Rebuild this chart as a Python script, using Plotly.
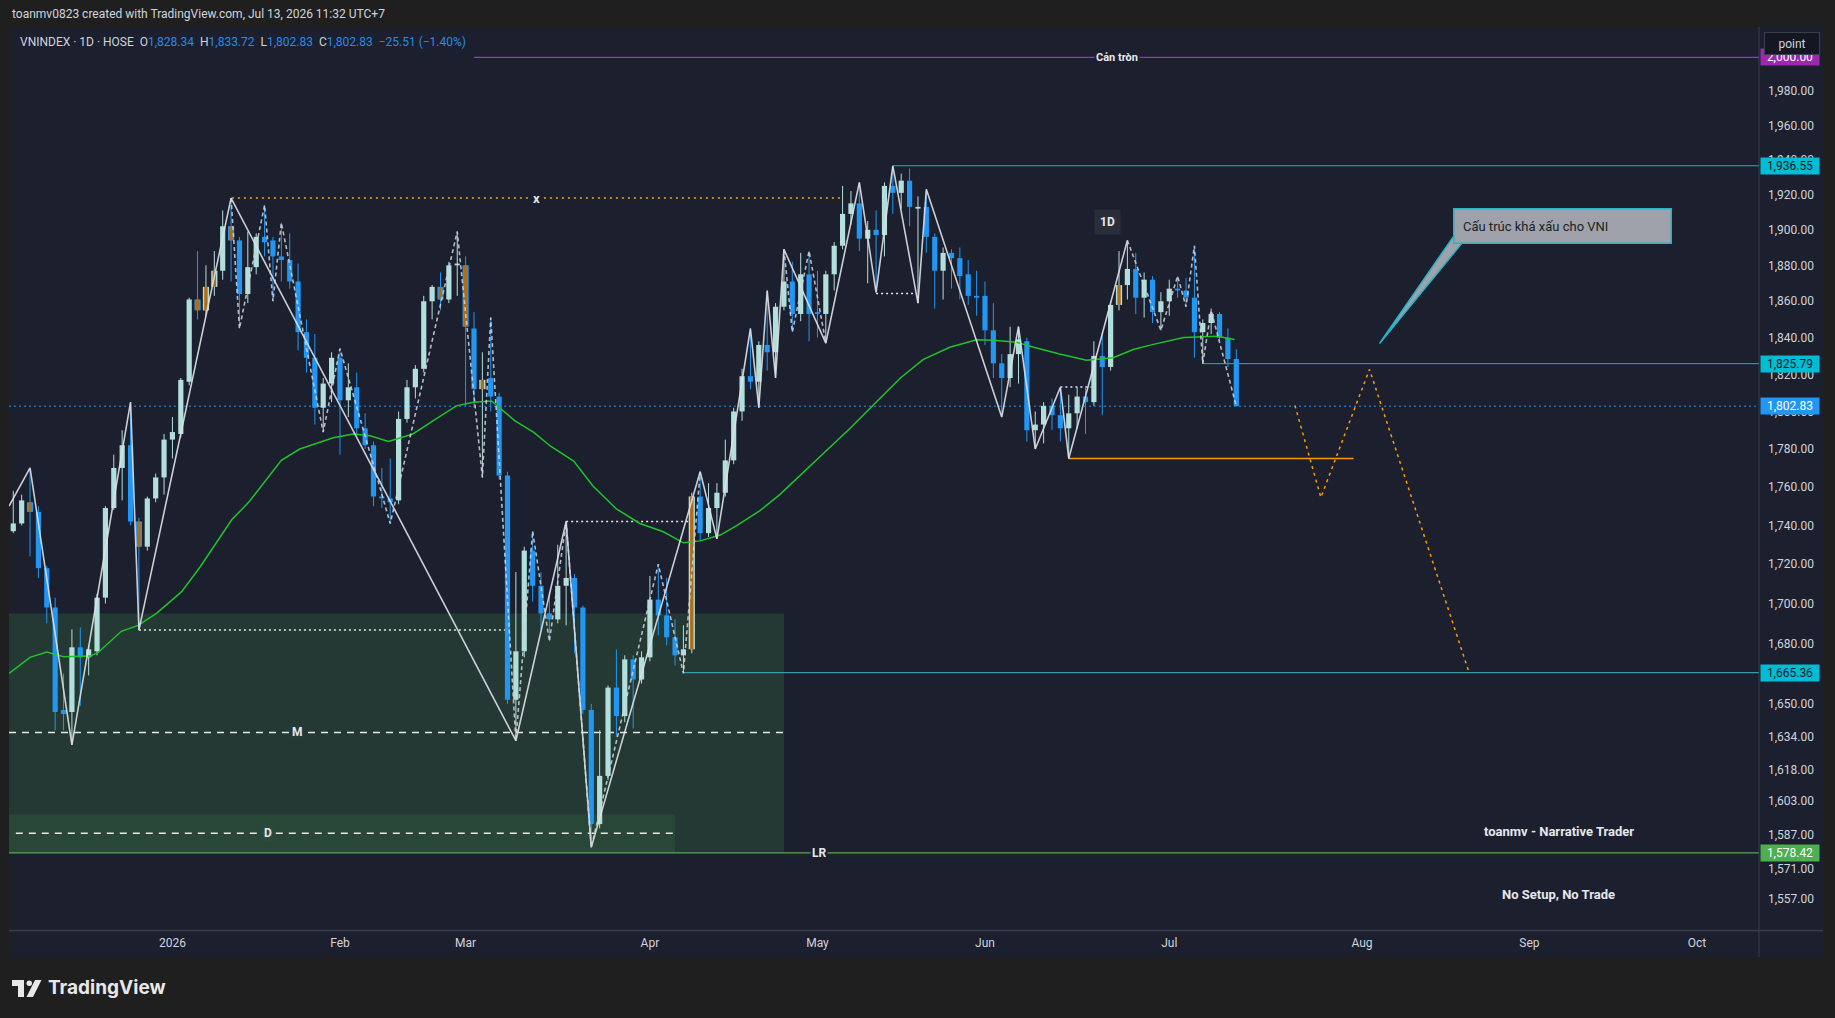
import numpy as np
import plotly.graph_objects as go

# ---------------- data ----------------
opens = [1737,1741,1752,1747,1718,1698,1647,1646,1678,1673,
         1676,1703,1749,1770,1782,1742,1729,1754,1765,1785,
         1788,1816,1861,1855,1868,1877,1902,1894,1864,1879,
         1896,1894,1885,1883,1871,1843,1829,1802,1815,1829,
         1806,1813,1791,1782,1755,1754,1753,1796,1813,1823,
         1860,1868,1861,1880,1880,1845,1812,1818,1808,1766,
         1652,1676,1727,1709,1695,1692,1709,1713,1698,1647,
         1592,1615,1658,1644,1672,1662,1673,1702,1694,1683,
         1674,1677,1755,1736,1749,1757,1774,1800,1819,1816,
         1836,1832,1857,1871,1853,1875,1854,1853,1875,1891,
         1909,1915,1895,1900,1897,1925,1921,1928,1912,1913,
         1896,1877,1887,1884,1875,1863,1863,1844,1826,1818,
         1831,1838,1790,1793,1803,1798,1791,1799,1808,1805,
         1830,1824,1858,1869,1878,1862,1872,1854,1860,1867,
         1866,1862,1843,1848,1853,1840,1828.34]
highs = [1758,1756,1770,1750,1719,1703,1665,1687,1688,1679,
         1705,1750,1777,1790,1805,1744,1755,1767,1788,1797,
         1818,1862,1888,1880,1888,1911,1918,1896,1899,1898,
         1914,1896,1904,1898,1881,1850,1842,1818,1832,1834,
         1826,1821,1799,1784,1770,1775,1800,1817,1825,1863,
         1869,1876,1882,1899,1885,1854,1832,1851,1810,1768,
         1716,1729,1737,1716,1706,1730,1742,1715,1699,1650,
         1637,1659,1677,1674,1674,1676,1714,1720,1713,1692,
         1689,1757,1768,1762,1762,1785,1802,1823,1845,1838,
         1866,1859,1889,1882,1887,1888,1877,1877,1893,1925,
         1922,1927,1905,1911,1927,1936.55,1932,1935,1919,1923,
         1898,1890,1889,1890,1883,1877,1871,1859,1831,1846,
         1846,1840,1800,1805,1807,1813,1809,1813,1813,1838,
         1843,1860,1888,1894,1887,1876,1874,1865,1872,1874,
         1873,1891,1850,1856,1854,1845,1833.72]
lows = [1736,1740,1724,1713,1690,1637,1637,1630,1649,1664,
        1674,1700,1748,1753,1740,1686.6,1727,1752,1756,1775,
        1786,1814,1850,1852,1863,1872,1871,1845,1859,1875,
        1885,1860,1871,1867,1833,1821,1793,1789,1805,1777,
        1797,1788,1780,1750,1749,1741,1751,1794,1807,1821,
        1850,1855,1859,1863,1803,1802,1765,1800,1764,1650,
        1632,1673,1701,1687,1681,1690,1689,1675,1645,1581,
        1590,1613,1634,1641,1638,1660,1671,1684,1679,1669,
        1665.36,1675,1732,1734,1733,1755,1772,1795,1812,1802,
        1822,1818,1855,1843,1849,1838,1840,1837,1866,1889,
        1903,1888,1870,1865,1885,1909,1912,1902,1859,1887,
        1856,1861,1867,1861,1858,1852,1836,1818,1797,1813,
        1815,1784,1780,1783,1790,1784,1775,1791,1788,1803,
        1798,1822,1855,1861,1853,1851,1848,1844,1852,1862,
        1857,1829,1825.79,1842,1838,1824,1802.83]
closes = [1741,1753,1747,1718,1698,1646,1645,1678,1673,1677,
          1703,1749,1770,1782,1742,1729,1754,1765,1785,1789,
          1817,1861,1855,1868,1877,1902,1894,1864,1879,1896,
          1893,1885,1883,1871,1843,1829,1802,1815,1829,1806,
          1813,1791,1782,1755,1754,1752,1796,1813,1823,1860,
          1868,1861,1880,1881,1846,1812,1817,1808,1766,1652,
          1676,1727,1709,1695,1692,1709,1713,1698,1647,1592,
          1615,1658,1644,1672,1662,1673,1702,1694,1683,1674,
          1677,1755,1736,1749,1757,1774,1800,1819,1816,1836,
          1832,1857,1871,1853,1875,1853,1853,1875,1891,1909,
          1915,1895,1900,1897,1925,1921,1928,1913,1913,1896,
          1877,1887,1884,1874,1863,1862,1844,1826,1818,1831,
          1839,1790,1793,1803,1798,1791,1799,1808,1805,1830,
          1824,1858,1869,1878,1862,1872,1854,1860,1867,1866,
          1862,1843,1848,1853,1840,1828.34,1802.83]
marked_bars = [2, 15, 22, 23, 24, 26, 51, 54, 56, 81, 132]

month_labels = ["2026", "Feb", "Mar", "Apr", "May", "Jun", "Jul", "Aug", "Sep", "Oct"]
month_bars = [19, 39, 54, 76, 96, 116, 138, 161, 181, 201]
price_ticks = [2000, 1980, 1960, 1940, 1920, 1900, 1880, 1860, 1840, 1820, 1800, 1780,
               1760, 1740, 1720, 1700, 1680, 1650, 1634, 1618, 1603, 1587, 1571, 1557]

ma_bars = [-0.5, 2, 4, 6, 9.2, 10.1, 12.9, 14.9, 17.1, 20.1, 22.3, 24.1, 26.1, 28.1, 30.2, 32,
           34.2, 38.2, 40.6, 42.6, 44.8, 47.7, 50.1, 52.9, 54.9, 57.1, 58.3, 59.9, 62.1, 64.1,
           66.9, 69.2, 72, 74.8, 77.6, 80, 82, 84.4, 86.4, 89.1, 91.5, 93.9, 95.9, 98.7, 99.9,
           102.7, 105.9, 108.6, 111.8, 115, 117, 119.8, 121.8, 124.9, 128.1, 131.3, 133.7,
           136.1, 139.7, 143.7, 145.8]
ma_vals = [1665, 1673, 1675.6, 1673.3, 1673.6, 1675.3, 1686, 1689, 1695, 1706, 1718.6, 1730,
           1743, 1752, 1764, 1774, 1780, 1786, 1788, 1787, 1784, 1788, 1795, 1803, 1805,
           1805.6, 1801, 1795, 1789, 1781.6, 1773.6, 1760.5, 1748.5, 1741, 1736.7, 1731, 1732,
           1735, 1740, 1747.5, 1756, 1766, 1774, 1786, 1791, 1803.6, 1818, 1828, 1834.7,
           1838.8, 1838.5, 1837.5, 1834.7, 1831, 1827.7, 1829, 1833.5, 1836.3, 1840, 1840.8, 1839]

zz_bars = [-0.5, 2, 7, 14, 15, 26, 60, 66, 69, 82, 84, 88, 89, 90, 91, 92, 97, 101, 103, 105,
           108, 109, 118, 120, 122, 125, 126, 133]
zz_vals = [1750, 1770, 1630, 1805, 1686.6, 1918, 1632, 1742, 1581, 1768, 1733, 1845, 1802, 1866,
           1818, 1889, 1837, 1927, 1865, 1936.55, 1859, 1923, 1797, 1846, 1780, 1813, 1775, 1894]

minor_a_bars = [26, 27, 30, 31, 32, 37, 39, 45, 53, 56, 57, 60, 62, 64, 66, 69, 77, 80, 82]
minor_a_vals = [1918, 1845, 1914, 1860, 1904, 1789, 1834, 1741, 1899, 1765, 1851, 1632, 1737,
                1681, 1742, 1581, 1720, 1665, 1768]
minor_b_bars = [92, 93, 95, 97]
minor_b_vals = [1889, 1843, 1888, 1837]
minor_c_bars = [133, 137, 139, 140, 141, 142, 143, 146]
minor_c_vals = [1894, 1844, 1874, 1857, 1891, 1825.79, 1855, 1802.83]

proj_bars = [153, 156.1, 161.9, 173.8]
proj_vals = [1803.2, 1754.5, 1822.7, 1665.36]

round_level = 2000.0
top_level = 1936.55
mid_level = 1825.79
low_level = 1665.36
lr_level = 1578.42
last_price = 1802.83
swing_low_level = 1775.0
x_level = 1918.0
m_level = 1636.0
d_level = 1587.7
zone_top = 1695.0
zone2_top = 1596.5
dotted_levels = [(15, 59, 1686.6), (66, 80.8, 1742), (103, 107.8, 1864.3), (125, 128.7, 1813.2)]

# ---------------- styling / layout helpers ----------------
BG = "#1b1f2e"
OUTER = "#1f1f1f"
TXT = "#d1d4dc"
UP = "#b2dfdb"
DOWN = "#2196f3"
ORANGE = "#b06d16"
FONT = "Roboto"
W, H = 1835, 1018
PL, PR, PT, PB = 9, 1759, 28, 930
XR = [-0.51, 208.4]
YR = [np.log10(1542.6), np.log10(2017.6)]


def px(X):
    return (X - PL) / (PR - PL)


def py(Y):
    return (PB - Y) / (PB - PT)


fig = go.Figure()


def seg_trace(xs, ys, color, width, dash="solid", opacity=1.0, fill=None, fillcolor=None):
    fig.add_trace(go.Scatter(x=xs, y=ys, mode="lines", line=dict(color=color, width=width, dash=dash),
                             opacity=opacity, fill=fill, fillcolor=fillcolor, hoverinfo="skip",
                             showlegend=False, connectgaps=False))


def hline(x0, x1, y, color, width=1, dash="solid", opacity=1.0):
    seg_trace([x0, x1], [y, y], color, width, dash, opacity)


# zones
seg_trace([XR[0], 92.0, 92.0, XR[0], XR[0]], [lr_level, lr_level, zone_top, zone_top, lr_level],
          "rgba(0,0,0,0)", 0, fill="toself", fillcolor="rgba(76,175,80,0.18)")
seg_trace([XR[0], 79.0, 79.0, XR[0], XR[0]], [lr_level, lr_level, zone2_top, zone2_top, lr_level],
          "rgba(0,0,0,0)", 0, fill="toself", fillcolor="rgba(76,175,80,0.12)")

# horizontal levels
hline(XR[0], XR[1], last_price, DOWN, 1, "2px,3px")
hline(55, XR[1], round_level, "#a52fc2", 1.2)
hline(105, XR[1], top_level, "#00bcd4", 1)
hline(142, XR[1], mid_level, "#00bcd4", 1)
hline(80, XR[1], low_level, "#3fb6cc", 1)
hline(XR[0], XR[1], lr_level, "#4caf50", 1.2)
hline(126, 160, swing_low_level, "#ff9800", 1.5)
hline(26.1, 98.7, x_level, "#f5a623", 1.5, "2px,4px")
hline(XR[0], 92.0, m_level, "#e8e8e8", 1.5, "7px,6px")
hline(0.3, 78.8, d_level, "#e8e8e8", 1.5, "7px,6px")
for a, b, lv in dotted_levels:
    hline(a, b, lv, "#e8e8e8", 1.5, "2px,3px")

# candles
n = len(opens)
bars = list(range(n))
wx = {True: [], False: []}
wy = {True: [], False: []}
bx = {True: [], False: []}
by = {True: [], False: []}
ox = {True: [], False: []}
oy = {True: [], False: []}
mx, my = [], []
for i in bars:
    up = closes[i] >= opens[i]
    wx[up] += [i, i, None]
    wy[up] += [lows[i], highs[i], None]
    o, c = opens[i], closes[i]
    if abs(c - o) < 1.0:
        c = o + (1.0 if up else -1.0)
    if i in marked_bars:
        ox[up] += [i, i, None]
        oy[up] += [o, c, None]
        mx += [i, i, None]
        my += [o, c, None]
    else:
        bx[up] += [i, i, None]
        by[up] += [o, c, None]

for up, col in ((True, UP), (False, DOWN)):
    seg_trace(wx[up], wy[up], col, 1)
for up, col in ((True, UP), (False, DOWN)):
    seg_trace(bx[up], by[up], col, 5.2)
    seg_trace(ox[up], oy[up], col, 6.2)
seg_trace(mx, my, ORANGE, 3.4)

# moving average
seg_trace(ma_bars, ma_vals, "#1fc32a", 1.5)

# zigzags
seg_trace(zz_bars, zz_vals, "#dfe1e6", 1.6, opacity=0.9)
for bb, vv in ((minor_a_bars, minor_a_vals), (minor_b_bars, minor_b_vals), (minor_c_bars, minor_c_vals)):
    seg_trace(bb, vv, "#d1d4dc", 1.6, "4px,3px", opacity=0.85)

# projection path
seg_trace(proj_bars, proj_vals, "#ff9800", 1.5, "3px,4px")

# callout pointer
callout_tip = (163.1, 1836.8)
callout_base = [(171.98, 1896.6), (172.9, 1892.2)]
seg_trace([callout_base[0][0], callout_tip[0], callout_base[1][0], callout_base[0][0]],
          [callout_base[0][1], callout_tip[1], callout_base[1][1], callout_base[0][1]],
          "#22b5c9", 1.5, fill="toself", fillcolor="#9fa2aa")

# ---------------- annotations ----------------
ann = []


def fmt(v):
    return f"{v:,.2f}"


def data_text(x, price, text, size=12, color=TXT, bold=True, bg=None, **kw):
    t = f"<b>{text}</b>" if bold else text
    d = dict(x=x, y=np.log10(price), xref="x", yref="y", text=t, showarrow=False,
             font=dict(family=FONT, size=size, color=color), xanchor="center", yanchor="middle")
    if bg:
        d.update(bgcolor=bg)
    d.update(kw)
    ann.append(d)


data_text(131.7, round_level, "Cản tròn", 11, "#e6e7ea", bg=BG, borderpad=1)
data_text(62.5, x_level, "x", 13, "#e6e7ea", bg=BG, borderpad=1)
data_text(33.9, m_level, "M", 12, "#e6e7ea", bg="#243a36", borderpad=1)
data_text(30.4, d_level, "D", 12, "#e6e7ea", bg="#2b4a3b", borderpad=1)
data_text(96.2, lr_level, "LR", 12, "#e6e7ea", bg=BG, borderpad=1)
data_text(184.5, 1588.3, "toanmv - Narrative Trader", 13, "#e6e7ea")
data_text(184.5, 1559.2, "No Setup, No Trade", 13, "#e6e7ea")
data_text(130.6, 1904.4, "1D", 12, "#e6e7ea", bg="#2a2e39", borderpad=5)
data_text(185.0, 1901.9, "\u00a0\u00a0Cấu trúc khá xấu cho VNI", 13, "#1c1f26", bold=False,
          bg="#9fa2aa", bordercolor="#22b5c9", borderwidth=1.5, width=212, height=29,
          align="left", borderpad=2)

# price boxes on the axis
price_boxes = [(round_level, "#9c27b0", "#ffffff"), (top_level, "#00bcd4", "#131722"),
               (mid_level, "#00bcd4", "#131722"), (last_price, "#2196f3", "#ffffff"),
               (low_level, "#00bcd4", "#131722"), (lr_level, "#4caf50", "#ffffff")]
for val, bgc, fc in price_boxes:
    ann.append(dict(x=px(1760), y=np.log10(val), xref="paper", yref="y", text=fmt(val),
                    showarrow=False, xanchor="left", yanchor="middle", bgcolor=bgc,
                    width=56, height=14, borderpad=1,
                    font=dict(family=FONT, size=12, color=fc)))

# "point" button (covers the top of the round-level box, as in the reference)
ann.append(dict(x=px(1792), y=py(43.5), xref="paper", yref="paper", text="point", showarrow=False,
                xanchor="center", yanchor="middle", bgcolor="#131722", bordercolor="#3a3e4a",
                borderwidth=1, width=52, height=19, font=dict(family=FONT, size=12, color=TXT)))

# header
ann.append(dict(x=px(10), y=py(14), xref="paper", yref="paper", showarrow=False,
                xanchor="left", yanchor="middle",
                text="toanmv0823 created with TradingView.com, Jul 13, 2026 11:32 UTC+7",
                font=dict(family=FONT, size=12, color=TXT)))
o_, h_, l_, c_ = opens[-1], highs[-1], lows[-1], closes[-1]
chg = c_ - closes[-2]
pct = chg / closes[-2] * 100
BL = "#2a8ae6"


def sp(t, c):
    return f'<span style="color:{c}">{t}</span>'


sym = ("VNINDEX · 1D · HOSE  " + "O" + sp(fmt(o_), BL) + "  H" + sp(fmt(h_), BL) + "  L" + sp(fmt(l_), BL)
       + "  C" + sp(fmt(c_), BL) + "  " + sp(f"{chg:+.2f} ({pct:+.2f}%)".replace("-", "\u2212"), BL))
ann.append(dict(x=px(18), y=py(42), xref="paper", yref="paper", showarrow=False, xanchor="left",
                yanchor="middle", text=sym, font=dict(family=FONT, size=12, color=TXT)))

# TradingView logo
ann.append(dict(x=px(46), y=py(988), xref="paper", yref="paper", showarrow=False, xanchor="left",
                yanchor="middle", text="<b>TradingView</b>",
                font=dict(family="Inter", size=19, color="#e8e8e8")))

shapes = []
# axis areas
shapes.append(dict(type="rect", xref="paper", yref="paper", x0=px(PR), x1=px(1823), y0=py(957),
                   y1=py(27), fillcolor=BG, line=dict(width=0), layer="below"))
shapes.append(dict(type="rect", xref="paper", yref="paper", x0=px(PL), x1=px(PR), y0=py(957),
                   y1=py(PB), fillcolor=BG, line=dict(width=0), layer="below"))
shapes.append(dict(type="line", xref="paper", yref="paper", x0=px(PR), x1=px(PR), y0=py(957),
                   y1=py(27), line=dict(color="#3a3e4a", width=1)))
shapes.append(dict(type="line", xref="paper", yref="paper", x0=px(PL), x1=px(1823), y0=py(930.5),
                   y1=py(930.5), line=dict(color="#3a3e4a", width=1.5)))


def ppath(points):
    s = "M " + " L ".join(f"{px(a):.5f},{py(b):.5f}" for a, b in points) + " Z"
    return s


logo_col = "#e8e8e8"
shapes.append(dict(type="path", xref="paper", yref="paper", path=ppath([(12, 980), (24, 980), (24, 997), (18, 997), (18, 986), (12, 986)]),
                   fillcolor=logo_col, line=dict(width=0)))
shapes.append(dict(type="circle", xref="paper", yref="paper", x0=px(26.5), x1=px(32), y0=py(986), y1=py(980.5),
                   fillcolor=logo_col, line=dict(width=0)))
shapes.append(dict(type="path", xref="paper", yref="paper", path=ppath([(35, 980), (41.5, 980), (33, 997), (26.5, 997)]),
                   fillcolor=logo_col, line=dict(width=0)))

fig.update_layout(
    width=W, height=H,
    margin=dict(l=PL, r=W - PR, t=PT, b=H - PB, pad=0),
    paper_bgcolor=OUTER, plot_bgcolor=BG,
    showlegend=False, hovermode=False,
    font=dict(family=FONT, color=TXT, size=12),
    annotations=ann, shapes=shapes,
    xaxis=dict(range=XR, showgrid=False, zeroline=False, showline=False, ticks="",
               tickvals=month_bars, ticktext=month_labels, tickfont=dict(size=12, color=TXT),
               ticklabelstandoff=4, fixedrange=True),
    yaxis=dict(type="log", range=YR, side="right", showgrid=False, zeroline=False, showline=False,
               ticks="", tickvals=price_ticks, ticktext=[fmt(v) for v in price_ticks],
               tickfont=dict(size=12, color=TXT), ticklabelstandoff=8, fixedrange=True),
)

fig.write_html("out.html", config={"displayModeBar": False},
               post_script="document.body.style.margin='0';")
